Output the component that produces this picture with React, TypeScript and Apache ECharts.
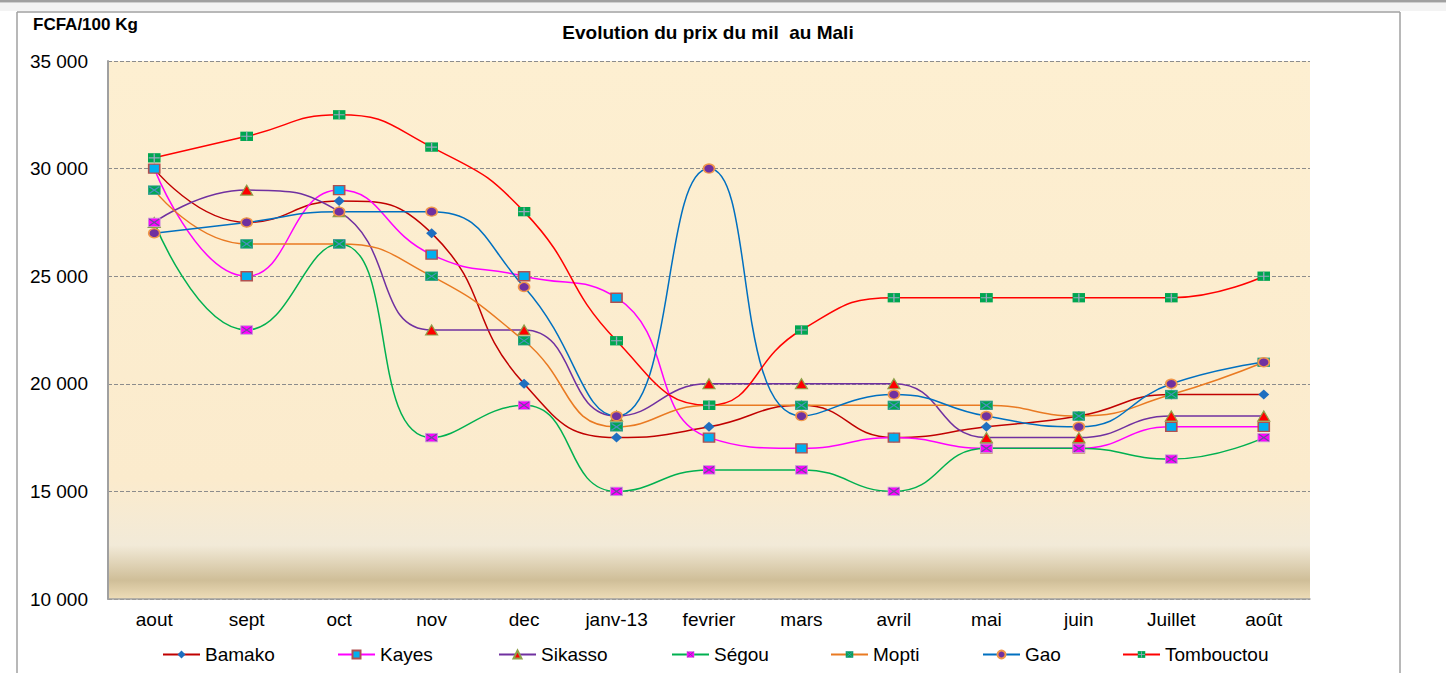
import React, { useEffect, useRef } from "react";
import * as echarts from "echarts";

const categories = ["aout", "sept", "oct", "nov", "dec", "janv-13", "fevrier", "mars", "avril", "mai", "juin", "Juillet", "août"];

const bamako = [30000, 27500, 28500, 27000, 20000, 17500, 18000, 19000, 17500, 18000, 18500, 19500, 19500];
const kayes = [30000, 25000, 29000, 26000, 25000, 24000, 17500, 17000, 17500, 17000, 17000, 18000, 18000];
const sikasso = [27500, 29000, 28000, 22500, 22500, 18500, 20000, 20000, 20000, 17500, 17500, 18500, 18500];
const segou = [27500, 22500, 26500, 17500, 19000, 15000, 16000, 16000, 15000, 17000, 17000, 16500, 17500];
const mopti = [29000, 26500, 26500, 25000, 22000, 18000, 19000, 19000, 19000, 19000, 18500, 19500, 21000];
const gao = [27000, 27500, 28000, 28000, 24500, 18500, 30000, 18500, 19500, 18500, 18000, 20000, 21000];
const tombouctou = [30500, 31500, 32500, 31000, 28000, 22000, 19000, 22500, 24000, 24000, 24000, 24000, 25000];

const seriesNames = ["Bamako", "Kayes", "Sikasso", "Ségou", "Mopti", "Gao", "Tombouctou"];
const legendLefts = [162, 337, 498, 671, 830, 982, 1122];

const svgImg = (svg: string) => "image://data:image/svg+xml;charset=utf-8," + encodeURIComponent(svg);

const segouSym = svgImg(
  "<svg xmlns='http://www.w3.org/2000/svg' width='13' height='11' viewBox='0 0 13 11'><rect x='0.5' y='0.5' width='12' height='10' fill='#FF00FF' stroke='#C8A0D8' stroke-width='1'/><path d='M1.5 1.5L11.5 9.5M11.5 1.5L1.5 9.5' stroke='#6A4C9C' stroke-width='1.3' fill='none'/></svg>"
);
const moptiSym = svgImg(
  "<svg xmlns='http://www.w3.org/2000/svg' width='13' height='11' viewBox='0 0 13 11'><rect x='0.5' y='0.5' width='12' height='10' fill='#00A651' stroke='#2E9E8E' stroke-width='1'/><path d='M1.5 1.5L11.5 9.5M11.5 1.5L1.5 9.5' stroke='#4A8FC0' stroke-width='1.3' fill='none'/></svg>"
);
const tombSym = svgImg(
  "<svg xmlns='http://www.w3.org/2000/svg' width='13' height='11' viewBox='0 0 13 11'><rect x='0' y='0' width='13' height='11' fill='#00A651'/><path d='M6.5 0.5L6.5 10.5M1 5.5L12 5.5' stroke='#9AA8C0' stroke-width='1.3' fill='none'/></svg>"
);

const fmt = (v: number) => String(v).replace(/\B(?=(\d{3})+(?!\d))/g, " ");

export default function App() {
  const ref = useRef<HTMLDivElement>(null);
  useEffect(() => {
    if (!ref.current) return;
    const chart = echarts.init(ref.current, undefined, { renderer: "svg" });
    const mk = (
      name: string,
      data: number[],
      lineColor: string,
      symbol: string,
      symbolSize: number | number[],
      fill: string,
      border?: string,
      borderWidth?: number
    ) => ({
      name,
      type: "line",
      data,
      smooth: 0.5,
      symbol,
      symbolSize,
      showSymbol: true,
      lineStyle: { color: lineColor, width: 1.5 },
      itemStyle: { color: fill, borderColor: border || fill, borderWidth: borderWidth || 0 },
      emphasis: { disabled: true },
    });
    const series = [
      mk("Bamako", bamako, "#C00000", "diamond", [11, 10], "#1F6FC0"),
      mk("Kayes", kayes, "#FF00FF", "rect", [11, 9], "#00B0F0", "#B05050", 1.5),
      mk("Sikasso", sikasso, "#7030A0", "triangle", [12, 10], "#FF0000", "#8EA04A", 1.2),
      mk("Ségou", segou, "#00B050", segouSym, [13, 11], "#FF00FF"),
      mk("Mopti", mopti, "#E97A22", moptiSym, [13, 11], "#00A651"),
      mk("Gao", gao, "#0070C0", "circle", [11, 9], "#7030A0", "#F0964A", 1.5),
      mk("Tombouctou", tombouctou, "#FF0000", tombSym, [13, 11], "#00A651"),
    ];
    const legends = seriesNames.map((n, i) => ({
      data: [n],
      left: legendLefts[i],
      top: 645,
      orient: "horizontal",
      itemWidth: 37,
      itemHeight: 10,
      itemGap: 5,
      padding: 0,
      selectedMode: false,
      textStyle: { fontFamily: "Liberation Sans, Arial, sans-serif", fontSize: 19, color: "#000", padding: [0, 0, 0, 0] },
    }));
    chart.setOption({
      animation: false,
      backgroundColor: "#fff",
      title: [
        {
          text: "Evolution du prix du mil  au Mali",
          left: 708,
          top: 23,
          textAlign: "center",
          padding: 0,
          textStyle: { fontFamily: "Liberation Sans, Arial, sans-serif", fontSize: 19, fontWeight: "bold", color: "#000" },
        },
        {
          text: "FCFA/100 Kg",
          left: 33,
          top: 16,
          padding: 0,
          textStyle: { fontFamily: "Liberation Sans, Arial, sans-serif", fontSize: 17, fontWeight: "bold", color: "#000" },
        },
      ],
      legend: legends,
      grid: {
        left: 108,
        right: 136,
        top: 61,
        bottom: 74,
        show: true,
        borderWidth: 0,
        backgroundColor: {
          type: "linear",
          x: 0,
          y: 0,
          x2: 0,
          y2: 1,
          colorStops: [
            { offset: 0, color: "#FDEFD1" },
            { offset: 0.78, color: "#FBEBCD" },
            { offset: 0.9, color: "#F2EAD8" },
            { offset: 0.965, color: "#CFBE98" },
            { offset: 1, color: "#EEDDB8" },
          ],
        },
      },
      xAxis: {
        type: "category",
        data: categories,
        boundaryGap: true,
        axisLine: { show: true, lineStyle: { color: "#A0A0A0", width: 1.5 } },
        axisTick: { show: false },
        axisLabel: {
          margin: 11,
          fontFamily: "Liberation Sans, Arial, sans-serif",
          fontSize: 19,
          color: "#000",
          interval: 0,
        },
      },
      yAxis: {
        type: "value",
        min: 10000,
        max: 35000,
        interval: 5000,
        axisLine: { show: true, lineStyle: { color: "#A0A0A0", width: 2 } },
        axisTick: { show: false },
        axisLabel: {
          margin: 20,
          fontFamily: "Liberation Sans, Arial, sans-serif",
          fontSize: 19,
          color: "#000",
          formatter: (v: number) => fmt(v),
        },
        splitLine: { show: true, lineStyle: { color: "#8C8C8C", type: [4, 2], width: 1 } },
      },
      graphic: [
        { type: "rect", shape: { x: 0, y: 0, width: 1446, height: 2.5 }, style: { fill: "#A0A0A0" }, silent: true },
        { type: "rect", shape: { x: 0, y: 3, width: 1446, height: 8 }, style: { fill: "#F3F3F3" }, silent: true },
        { type: "line", shape: { x1: 17, y1: 12, x2: 1400, y2: 12 }, style: { stroke: "#A0A0A0", lineWidth: 1.5 }, silent: true },
        { type: "line", shape: { x1: 17, y1: 12, x2: 17, y2: 673 }, style: { stroke: "#A0A0A0", lineWidth: 1.5 }, silent: true },
        { type: "line", shape: { x1: 1400, y1: 12, x2: 1400, y2: 673 }, style: { stroke: "#A0A0A0", lineWidth: 1.5 }, silent: true },
      ],
      series,
    });
    return () => chart.dispose();
  }, []);
  return <div ref={ref} style={{ position: "fixed", left: 0, top: 0, width: 1446, height: 673 }} />;
}
